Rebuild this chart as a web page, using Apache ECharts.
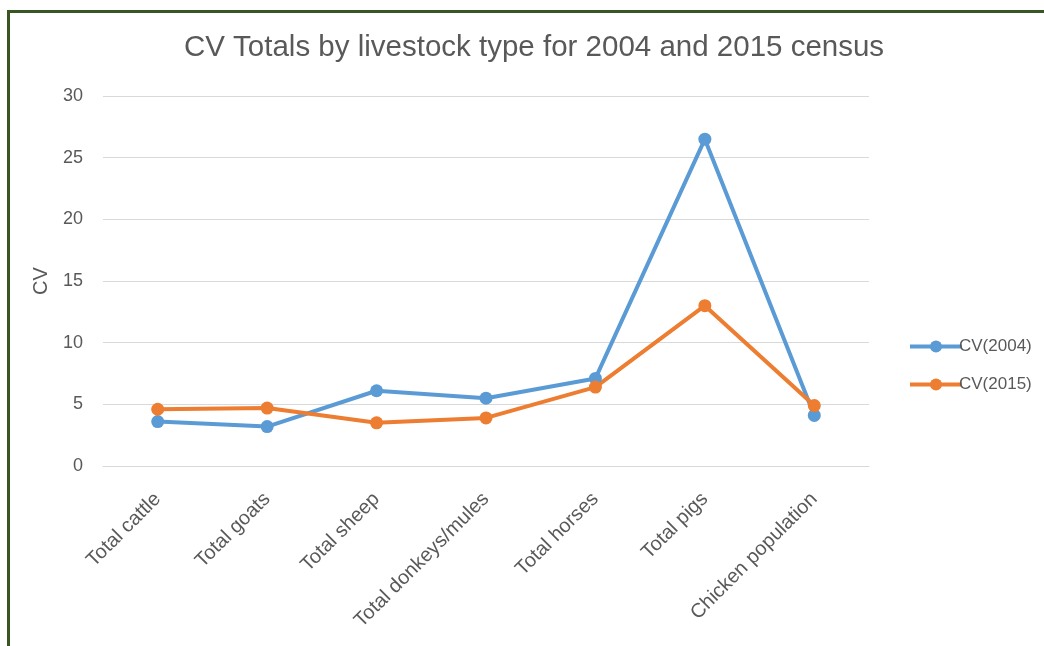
<!DOCTYPE html>
<html>
<head>
<meta charset="utf-8">
<script src="https://cdn.jsdelivr.net/npm/echarts@6/dist/echarts.min.js"></script>
<style>
  html, body { margin: 0; padding: 0; background: #fff; }
  #wrap { position: relative; width: 1044px; height: 646px; }
  #frame { position: absolute; left: 7px; top: 10px; right: 0; bottom: 0;
           border-top: 3px solid #375623; border-left: 3px solid #375623; pointer-events: none; }
  #chart { position: absolute; left: 0; top: 0; width: 1044px; height: 646px; }
</style>
</head>
<body>
<div id="wrap">
  <div id="chart"></div>
  <div id="frame"></div>
</div>
<script>
// livestock categories
var categories = ['Total cattle', 'Total goats', 'Total sheep', 'Total donkeys/mules',
                  'Total horses', 'Total pigs', 'Chicken population'];
// CV values
var cv2004 = [3.6, 3.2, 6.1, 5.5, 7.1, 26.5, 4.1];
var cv2015 = [4.6, 4.7, 3.5, 3.9, 6.4, 13.0, 4.9];
var yTicks = { min: 0, max: 30, interval: 5 };

var chart = echarts.init(document.getElementById('chart'));
var font = '"Liberation Sans", sans-serif';
var grey = '#595959';

var option = {
  animation: false,
  title: {
    text: 'CV Totals by livestock type for 2004 and 2015 census',
    left: 529,
    textAlign: 'center',
    top: 28,
    textStyle: { fontFamily: font, fontSize: 29.5, fontWeight: 'normal', color: grey }
  },
  legend: {
    orient: 'vertical',
    left: 903,
    top: 333,
    itemWidth: 52,
    itemHeight: 15,
    itemGap: 21,
    lineStyle: { width: 4 },
    itemStyle: { borderWidth: 0 },
    textStyle: { fontFamily: font, fontSize: 17, color: grey, padding: [0, 0, 0, -8] },
    data: ['CV(2004)', 'CV(2015)']
  },
  grid: { left: 103, right: 175, top: 96, bottom: 180 },
  xAxis: {
    type: 'category',
    data: categories,
    boundaryGap: true,
    axisLine: { show: true, lineStyle: { color: '#d9d9d9', width: 1 } },
    axisTick: { show: false },
    axisLabel: { rotate: 45, interval: 0, margin: 30, fontFamily: font, fontSize: 20, color: grey }
  },
  yAxis: {
    type: 'value',
    min: yTicks.min,
    max: yTicks.max,
    interval: yTicks.interval,
    name: 'CV',
    nameLocation: 'middle',
    nameGap: 52,
    nameTextStyle: { fontFamily: font, fontSize: 20, color: grey },
    axisLine: { show: false },
    axisTick: { show: false },
    axisLabel: { margin: 20, fontFamily: font, fontSize: 18, color: grey },
    splitLine: { lineStyle: { color: '#d9d9d9', width: 1 } }
  },
  series: [
    {
      name: 'CV(2004)',
      type: 'line',
      data: cv2004,
      symbol: 'circle',
      symbolSize: 13,
      color: '#5B9BD5',
      lineStyle: { width: 4, color: '#5B9BD5' },
      itemStyle: { color: '#5B9BD5' }
    },
    {
      name: 'CV(2015)',
      type: 'line',
      data: cv2015,
      symbol: 'circle',
      symbolSize: 13,
      color: '#ED7D31',
      lineStyle: { width: 4, color: '#ED7D31' },
      itemStyle: { color: '#ED7D31' }
    }
  ]
};

chart.setOption(option);
</script>
</body>
</html>
